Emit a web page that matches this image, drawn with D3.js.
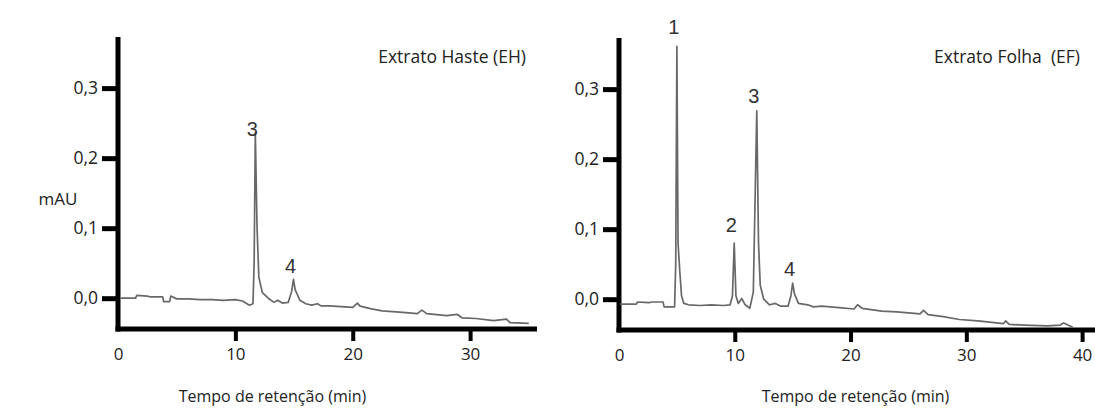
<!DOCTYPE html>
<html>
<head>
<meta charset="utf-8">
<script src="https://cdn.jsdelivr.net/npm/d3@7"></script>
<style>
  body { margin: 0; background: #fff; }
  svg { display: block; }
  text { font-family: "Open Sans", "Noto Sans", sans-serif; fill: #222; white-space: pre; }
  .peak { font-family: "Liberation Sans", Arial, sans-serif; font-size: 20px; fill: #333; }
</style>
</head>
<body>
<svg id="chart" width="1095" height="409"></svg>
<script>
// stem extract (EH): retention time (min) and absorbance (mAU)
const ehTime = [0.2, 1.5, 1.6, 2.5, 2.7, 3.8, 3.9, 4.4, 4.5, 5.0, 6, 7, 8, 9, 10, 10.6, 11.2, 11.5, 11.6, 11.7, 11.85, 12.0, 12.3, 12.8, 13.3, 13.6, 14.0, 14.5, 14.8, 14.95, 15.1, 15.5, 16, 16.5, 17.0, 17.3, 18, 19, 20, 20.4, 20.6, 20.8, 21.5, 22.5, 24, 25.5, 25.9, 26.3, 28, 28.9, 29.3, 30.5, 32, 33.1, 33.4, 35];
const ehSignal = [0.000, 0.000, 0.004, 0.003, 0.002, 0.002, -0.005, -0.005, 0.003, -0.001, -0.001, -0.002, -0.002, -0.003, -0.002, -0.004, -0.010, -0.008, 0.050, 0.236, 0.100, 0.030, 0.008, 0.000, -0.006, -0.003, -0.007, -0.006, 0.010, 0.027, 0.012, -0.003, -0.008, -0.010, -0.008, -0.011, -0.011, -0.012, -0.013, -0.007, -0.011, -0.012, -0.015, -0.018, -0.020, -0.022, -0.017, -0.022, -0.025, -0.023, -0.028, -0.029, -0.032, -0.030, -0.035, -0.036];
const ehPeaks = [
  {label: "3", time: 11.7, signal: 0.236},
  {label: "4", time: 14.95, signal: 0.027}
];

// leaf extract (EF)
const efTime = [0.1, 1.5, 1.6, 2.6, 2.8, 3.8, 3.9, 4.8, 4.9, 5.0, 5.1, 5.25, 5.4, 5.6, 6, 7, 8, 9, 9.6, 9.8, 9.95, 10.1, 10.3, 10.6, 10.9, 11.3, 11.6, 11.9, 12.05, 12.2, 12.5, 13.0, 13.5, 14.0, 14.6, 14.85, 15.0, 15.15, 15.5, 16.3, 16.8, 17.5, 19, 20.3, 20.6, 21, 22.7, 24, 26.0, 26.3, 26.7, 28, 29.4, 31, 33.2, 33.4, 33.7, 35, 37, 38.1, 38.4, 39.2];
const efSignal = [-0.007, -0.007, -0.004, -0.005, -0.004, -0.004, -0.011, -0.011, 0.050, 0.361, 0.080, 0.040, 0.005, -0.006, -0.008, -0.009, -0.008, -0.009, -0.008, 0.005, 0.080, 0.005, -0.006, 0.001, -0.008, -0.013, 0.010, 0.269, 0.080, 0.020, 0.000, -0.008, -0.006, -0.010, -0.010, 0.005, 0.023, 0.008, -0.006, -0.008, -0.011, -0.010, -0.012, -0.014, -0.008, -0.013, -0.017, -0.018, -0.021, -0.016, -0.022, -0.025, -0.029, -0.031, -0.035, -0.031, -0.036, -0.037, -0.038, -0.037, -0.034, -0.040];
const efPeaks = [
  {label: "1", time: 5.0, signal: 0.361},
  {label: "2", time: 9.95, signal: 0.080},
  {label: "3", time: 11.9, signal: 0.269},
  {label: "4", time: 15.0, signal: 0.023}
];

const yTicks = [0, 0.1, 0.2, 0.3];
const ehXTicks = [0, 10, 20, 30];
const efXTicks = [0, 10, 20, 30, 40];
const xTitle = "Tempo de retenção (min)";
const yTitle = "mAU";

const svg = d3.select("#chart");
const comma = d3.formatLocale({decimal: ",", thousands: ".", grouping: [3], currency: ["", ""]}).format(".1f");

function drawPanel(opts) {
    const x = d3.scaleLinear().domain([0, opts.xMax]).range([opts.left, opts.right]);
    const y = d3.scaleLinear().domain([-0.044, 0.373]).range([opts.bottom, opts.top]);
    const g = svg.append("g");

    // axis ticks (domain lines drawn by hand, heavier)
    const yAxis = g.append("g")
        .attr("transform", `translate(${opts.left},0)`)
        .call(d3.axisLeft(y).tickValues(yTicks).tickSize(16).tickPadding(4).tickFormat(comma));
    yAxis.select(".domain").remove();
    yAxis.selectAll(".tick line").attr("stroke", "#000").attr("stroke-width", 5);
    yAxis.selectAll(".tick text").attr("font-size", 17.5).attr("fill", "#222");

    const xAxis = g.append("g")
        .attr("transform", `translate(0,${opts.bottom})`)
        .call(d3.axisBottom(x).tickValues(opts.xTicks).tickSize(12).tickPadding(7).tickFormat(d3.format("d")));
    xAxis.select(".domain").remove();
    xAxis.selectAll(".tick line").attr("stroke", "#000").attr("stroke-width", 4)
        .attr("display", d => d === 0 ? "none" : null);
    xAxis.selectAll(".tick text").attr("font-size", 17).attr("fill", "#222");

    g.append("line")
        .attr("x1", opts.left).attr("x2", opts.left)
        .attr("y1", opts.top).attr("y2", opts.bottom + 2.5)
        .attr("stroke", "#000").attr("stroke-width", 5);
    g.append("line")
        .attr("x1", opts.left - 2.5).attr("x2", opts.right)
        .attr("y1", opts.bottom).attr("y2", opts.bottom)
        .attr("stroke", "#000").attr("stroke-width", 5);

    // chromatogram trace
    const pts = opts.time.map((t, i) => [t, opts.signal[i]]);
    g.append("path")
        .datum(pts)
        .attr("fill", "none")
        .attr("stroke", "#686868")
        .attr("stroke-width", 1.7)
        .attr("stroke-linejoin", "round")
        .attr("d", d3.line().x(d => x(d[0])).y(d => y(d[1])));

    g.selectAll(".peak")
        .data(opts.peaks)
        .enter().append("text")
        .attr("class", "peak")
        .attr("x", d => x(d.time) - 3)
        .attr("y", (d, i) => y(d.signal) - opts.labelLift[i])
        .attr("text-anchor", "middle")
        .text(d => d.label);

    g.append("text")
        .attr("x", opts.titleX)
        .attr("y", 63)
        .attr("text-anchor", "end")
        .attr("font-size", 17.5)
        .text(opts.title);

    g.append("text")
        .attr("x", (opts.left + opts.right) / 2 - opts.xTitleShift)
        .attr("y", 402)
        .attr("text-anchor", "middle")
        .attr("font-size", 16)
        .text(xTitle);
}

drawPanel({
    left: 118, right: 537, top: 37, bottom: 329, xMax: 35.7,
    xTicks: ehXTicks, time: ehTime, signal: ehSignal, peaks: ehPeaks,
    labelLift: [-3, 6],
    title: "Extrato Haste (EH)", titleX: 526, xTitleShift: 55
});

drawPanel({
    left: 619, right: 1096, top: 38, bottom: 330, xMax: 41.2,
    xTicks: efXTicks, time: efTime, signal: efSignal, peaks: efPeaks,
    labelLift: [12, 11, 8, 7],
    title: "Extrato Folha  (EF)", titleX: 1080, xTitleShift: 2
});

svg.append("text")
    .attr("x", 58)
    .attr("y", 205)
    .attr("text-anchor", "middle")
    .attr("font-size", 17)
    .text(yTitle);
</script>
</body>
</html>
